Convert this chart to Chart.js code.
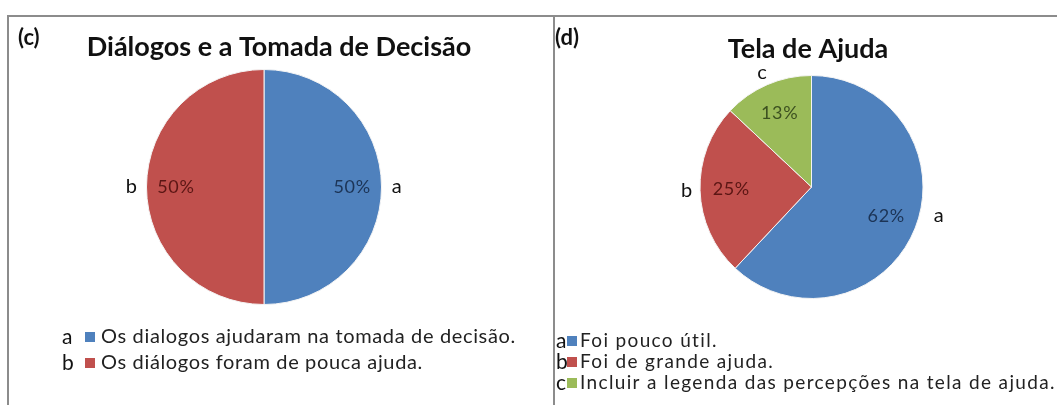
<!DOCTYPE html>
<html>
<head>
<meta charset="utf-8">
<script src="https://cdn.jsdelivr.net/npm/chart.js@4"></script>
<style>
  html, body { margin: 0; padding: 0; background: #fff; }
  body { width: 1057px; height: 405px; position: relative; overflow: hidden; }
  .panel { position: absolute; top: 15px; height: 400px; border-top: 2px solid #8c8c8c; }
  #panelC { left: 7px; width: 544px; border-left: 2px solid #8c8c8c; border-right: 2px solid #8c8c8c; }
  #panelD { left: 553px; width: 504px; }
  canvas { position: absolute; left: 0; top: 0; }
</style>
</head>
<body>
<div class="panel" id="panelC"><canvas id="chartC" width="544" height="388"></canvas></div>
<div class="panel" id="panelD"><canvas id="chartD" width="504" height="388"></canvas></div>
<script>
document.addEventListener("DOMContentLoaded", function () {
    // chart (c)
    const lettersC = ['a', 'b'];
    const legendC = ['Os dialogos ajudaram na tomada de decisão.', 'Os diálogos foram de pouca ajuda.'];
    const valuesC = [50, 50];

    // chart (d)
    const lettersD = ['a', 'b', 'c'];
    const legendD = ['Foi pouco útil.', 'Foi de grande ajuda.', 'Incluir a legenda das percepções na tela de ajuda.'];
    const valuesD = [62, 25, 13];

    const sliceColors = ['#4f81bd', '#c0504d', '#9bbb59'];
    const pctColors = ['#1c3456', '#5b1614', '#3c5020'];
    const fontFamily = 'Lato, "Open Sans", sans-serif';

    // labels on and around slices, tag, title and legend, Excel style
    const excelLook = {
        id: 'excelLook',
        afterDatasetsDraw(chart, args, opts) {
            const ctx = chart.ctx;
            const meta = chart.getDatasetMeta(0);
            const values = chart.data.datasets[0].data;
            ctx.save();
            ctx.textAlign = 'center';
            ctx.textBaseline = 'middle';
            meta.data.forEach((arc, i) => {
                const mid = (arc.startAngle + arc.endAngle) / 2;
                const r = arc.outerRadius;
                ctx.font = '18px ' + fontFamily;
                ctx.letterSpacing = '0.6px';
                ctx.fillStyle = pctColors[i];
                ctx.fillText(values[i] + '%', arc.x + Math.cos(mid) * r * opts.inner, arc.y + Math.sin(mid) * r * opts.inner);
                const oMid = mid + (opts.outerShift[i] || 0) * Math.PI / 180;
                const oR = r * (opts.outerR[i] || opts.outer);
                ctx.font = '20px ' + fontFamily;
                ctx.letterSpacing = '0px';
                ctx.fillStyle = '#111';
                ctx.fillText(chart.data.labels[i], arc.x + Math.cos(oMid) * oR, arc.y + Math.sin(oMid) * oR);
            });
            ctx.restore();
        },
        afterDraw(chart, args, opts) {
            const ctx = chart.ctx;
            ctx.save();
            ctx.textBaseline = 'middle';
            ctx.fillStyle = '#111';
            ctx.textAlign = 'left';
            ctx.font = 'bold 22px ' + fontFamily;
            ctx.fillText(opts.tag, opts.tagX, opts.tagY);
            ctx.textAlign = 'center';
            ctx.font = 'bold 27px ' + fontFamily;
            ctx.fillText(opts.title, opts.titleX, opts.titleY);
            // legend
            ctx.textAlign = 'left';
            opts.legend.forEach((txt, i) => {
                const y = opts.legendY + i * opts.legendGap;
                ctx.fillStyle = '#111';
                ctx.font = '21px ' + fontFamily;
                ctx.letterSpacing = '0px';
                ctx.fillText(chart.data.labels[i], opts.legendX, y);
                ctx.fillStyle = sliceColors[i];
                ctx.fillRect(opts.legendX + opts.boxOff, y - 5, 10, 10);
                ctx.fillStyle = '#222';
                ctx.font = opts.legendFont + 'px ' + fontFamily;
                ctx.letterSpacing = opts.legendSpacing;
                ctx.fillText(txt, opts.legendX + opts.textOff, y);
            });
            ctx.restore();
        }
    };

    function makePie(id, letters, values, padding, look) {
        return new Chart(document.getElementById(id).getContext('2d'), {
            type: 'pie',
            data: {
                labels: letters,
                datasets: [{
                    data: values,
                    backgroundColor: sliceColors.slice(0, values.length),
                    borderColor: '#f4f4f4',
                    borderWidth: 1,
                    hoverOffset: 0
                }]
            },
            options: {
                responsive: false,
                animation: false,
                events: [],
                layout: { padding: padding },
                plugins: {
                    legend: { display: false },
                    tooltip: { enabled: false },
                    excelLook: look
                }
            },
            plugins: [excelLook]
        });
    }

    makePie('chartC', lettersC, valuesC, { top: 52, bottom: 100, left: 0, right: 34 }, {
        tag: '(c)', tagX: 9, tagY: 21,
        title: 'Diálogos e a Tomada de Decisão', titleX: 270, titleY: 30,
        inner: 0.75, outer: 1.13, outerShift: [], outerR: [],
        legend: legendC, legendX: 53, legendY: 320, legendGap: 26,
        boxOff: 23, textOff: 39, legendFont: 20, legendSpacing: '0.65px'
    });

    makePie('chartD', lettersD, valuesD, { top: 58, bottom: 106, left: 13, right: 0 }, {
        tag: '(d)', tagX: 2, tagY: 21,
        title: 'Tela de Ajuda', titleX: 255, titleY: 32,
        inner: 0.72, outer: 1.12, outerShift: [-9, 0, 0], outerR: [1.17],
        legend: legendD, legendX: 3, legendY: 324, legendGap: 21,
        boxOff: 11, textOff: 24, legendFont: 19, legendSpacing: '1.35px'
    });
});
</script>
</body>
</html>
